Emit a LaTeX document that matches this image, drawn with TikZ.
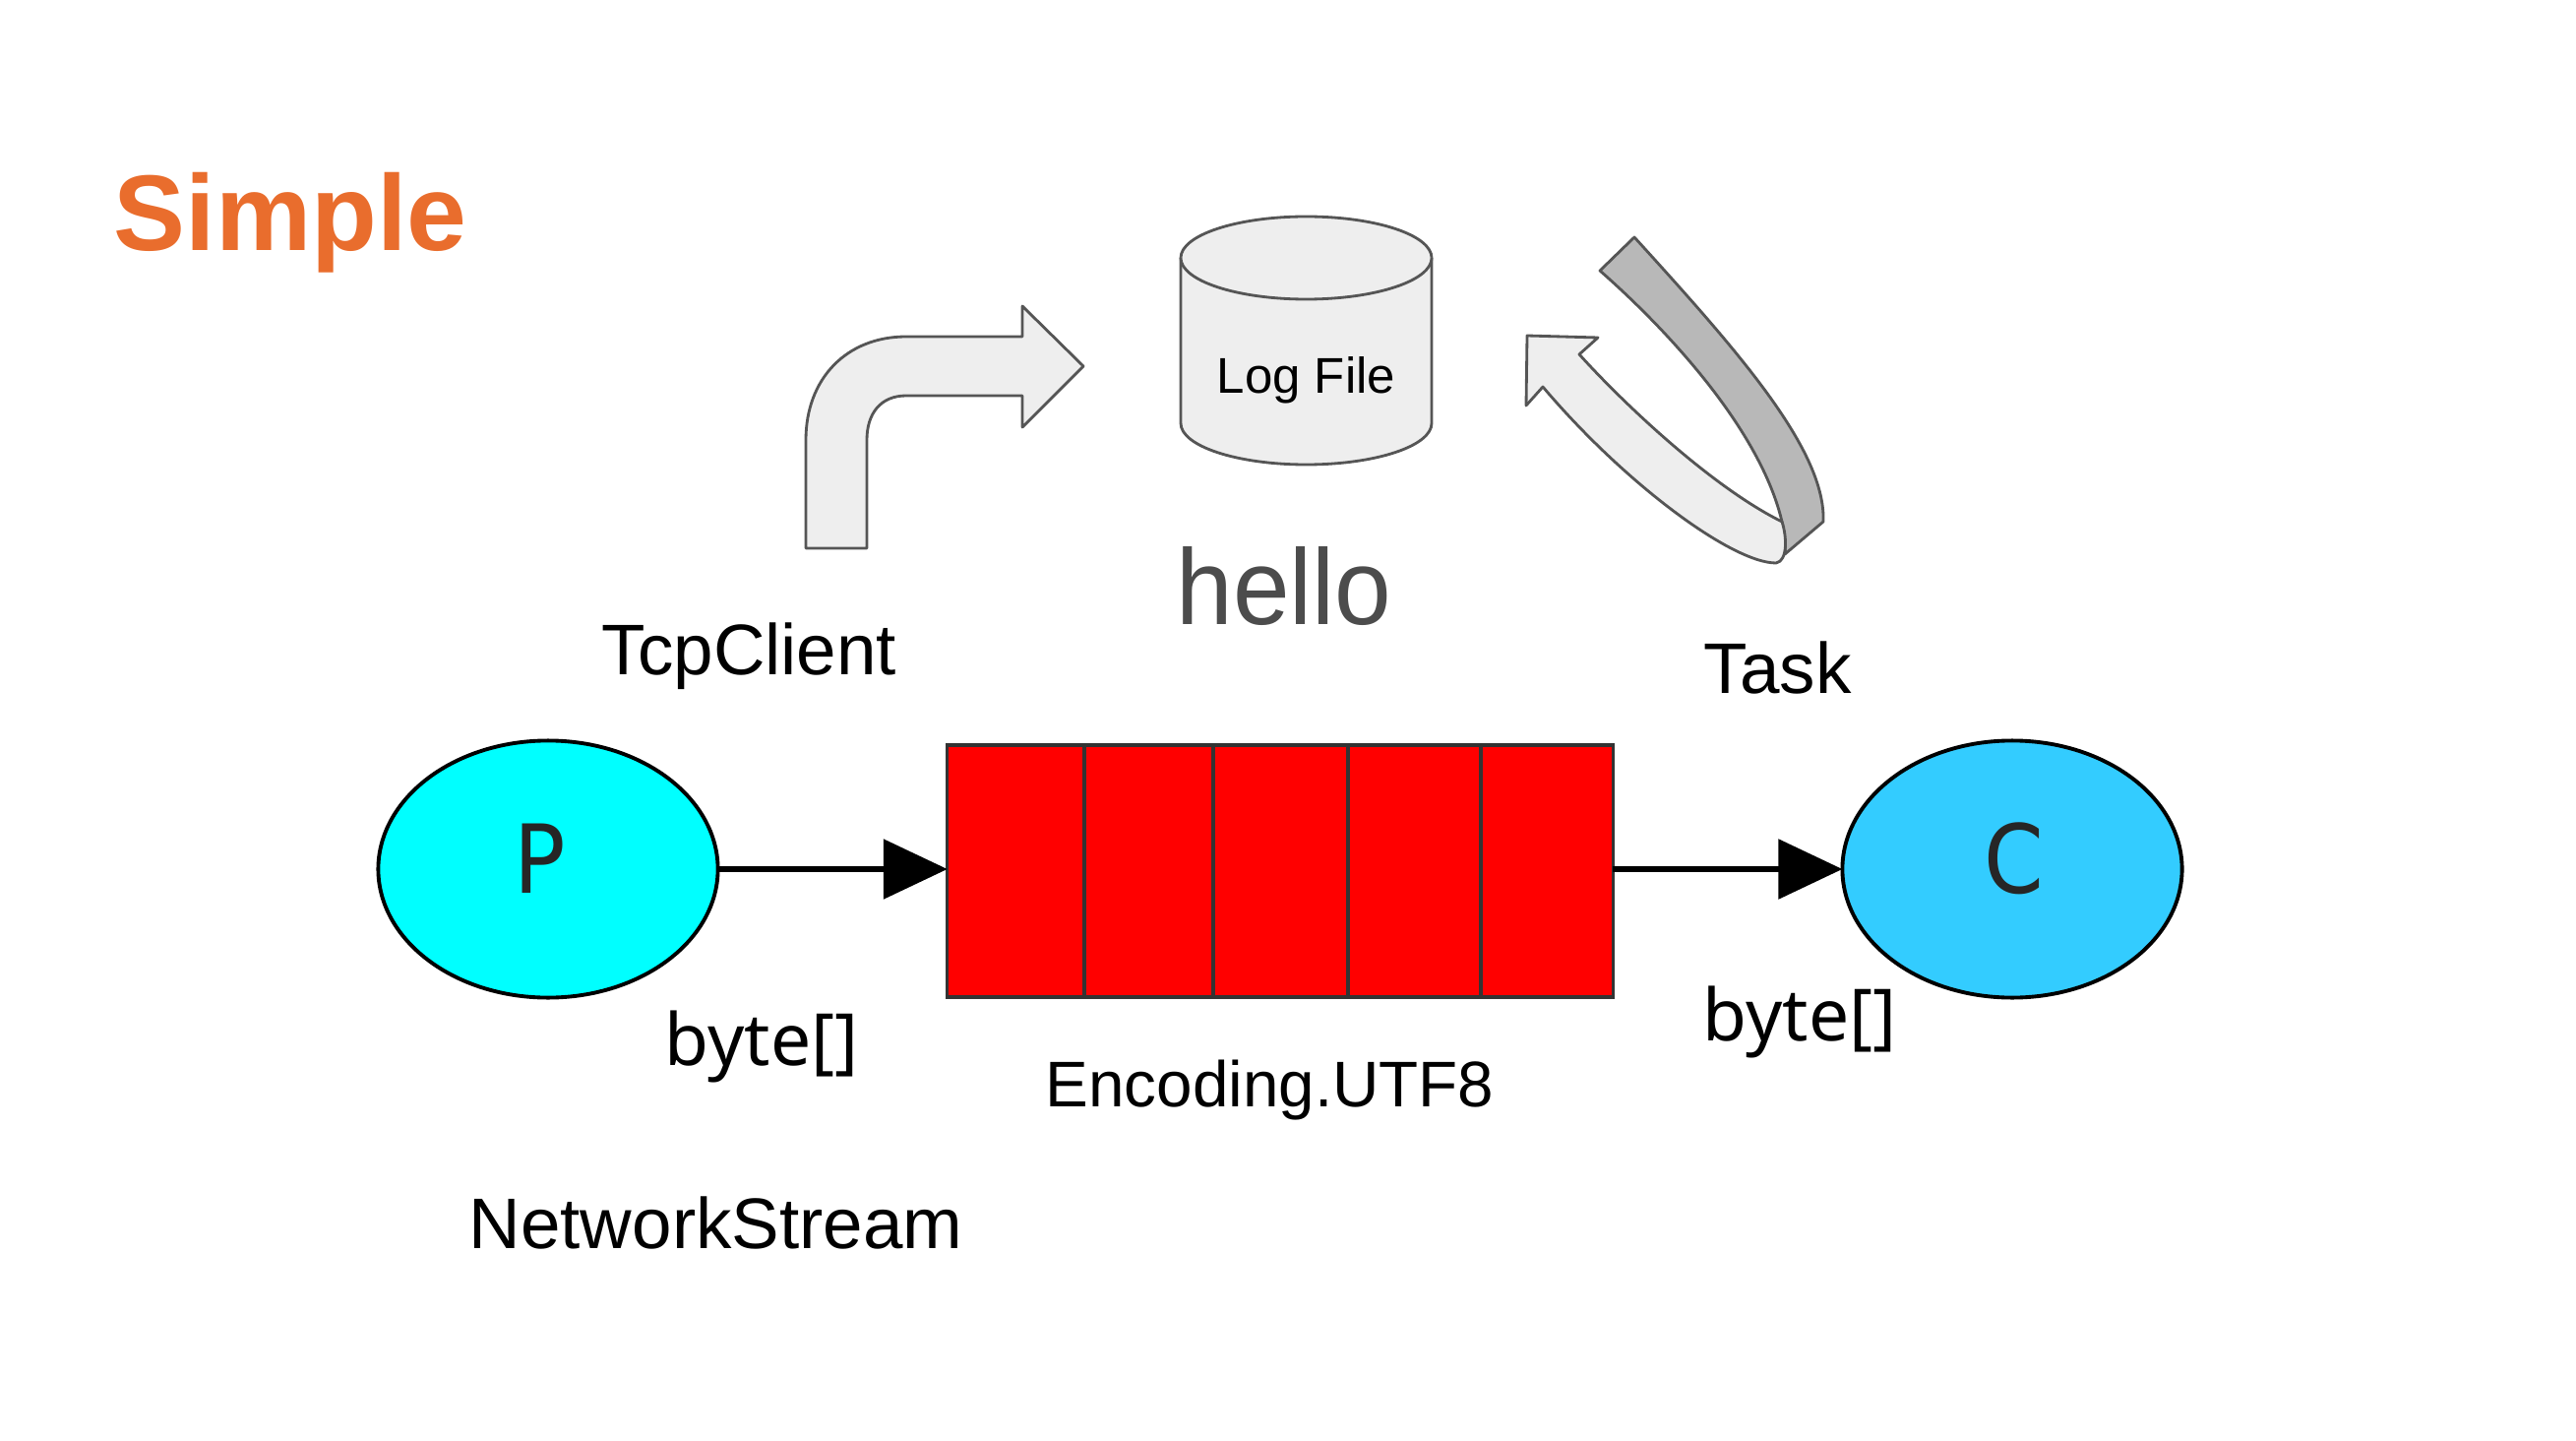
\documentclass[tikz,border=0pt]{standalone}
\usepackage{fontspec}
\setmainfont{Liberation Sans}
\newfontfamily\notofont{Noto Sans}
\newfontfamily\dejafont{DejaVu Sans}
\usetikzlibrary{arrows.meta, shapes.geometric}
\definecolor{titleorange}{HTML}{E96D2D}
\definecolor{shapeline}{HTML}{555555}
\definecolor{shapefill}{HTML}{EEEEEE}
\definecolor{foldfill}{HTML}{B8B8B8}
\definecolor{producercyan}{HTML}{00FFFF}
\definecolor{consumerblue}{HTML}{33CCFF}
\tikzset{
    bubble/.style={ellipse, draw=black, line width=1.1pt, inner sep=0pt, outer sep=0pt, minimum width=3.45cm, minimum height=2.61cm},
    flow/.style={draw=black, line width=1.6pt, -{Triangle[length=0.65cm, width=0.6cm]}},
    sketch/.style={draw=shapeline, fill=shapefill, line width=0.8pt, line join=round},
    caption/.style={anchor=base west, inner sep=0pt, font=\fontsize{20.7}{24}\selectfont},
    letter/.style={anchor=base west, inner sep=0pt, text=black!85, xscale=0.9, font=\dejafont\fontsize{27.5}{32}\selectfont}
}

\begin{document}
\begin{tikzpicture}[x=0.01cm, y=-0.01cm]
    \useasboundingbox (0, 0) rectangle (2618, 1464);

    \node[anchor=base west, inner sep=0pt, text=titleorange, font=\fontsize{31.1}{36}\bfseries\selectfont] (title) at (115, 255) { Simple };

    % log file
    \draw[sketch] (1200, 262) -- (1200, 430) arc[start angle=180, end angle=0, x radius=127.5, y radius=42] -- (1455, 262) arc[start angle=0, end angle=-180, x radius=127.5, y radius=42] -- cycle;
    \draw[sketch] (1200, 262) arc[start angle=180, end angle=0, x radius=127.5, y radius=42];
    \node[anchor=base west, inner sep=0pt, font=\fontsize{14.5}{18}\selectfont] (logfile) at (1236, 400) { Log File };

    % bent arrow
    \draw[sketch] (819, 557) -- (819, 447) .. controls (819, 385) and (860, 342) .. (921, 342) -- (1039, 342) -- (1039, 311) -- (1101, 372) -- (1039, 434) -- (1039, 402) -- (921, 402) .. controls (895, 402) and (881, 420) .. (881, 447) -- (881, 557) -- cycle;

    % looping arrow
    \draw[sketch, fill=foldfill] (1661, 241) .. controls (1760, 350) and (1850, 450) .. (1853, 523) -- (1853, 530) -- (1814, 563) .. controls (1815, 550) and (1813, 540) .. (1811, 530) .. controls (1790, 440) and (1700, 340) .. (1626, 275) -- cycle;
    \draw[sketch] (1552, 341) -- (1624, 343) -- (1605, 360) .. controls (1650, 410) and (1740, 495) .. (1811, 530) .. controls (1816, 545) and (1817, 570) .. (1805, 572) .. controls (1760, 572) and (1650, 490) .. (1568, 393) -- (1551, 412) -- cycle;

    % main line
    \node[bubble, fill=producercyan] (producer) at (557, 883) {};
    \node[bubble, fill=consumerblue] (consumer) at (2045, 883) {};
    \node[rectangle, draw=black!80, fill=red, line width=0.9pt, inner sep=0pt, outer sep=0pt, minimum width=6.76cm, minimum height=2.56cm] (queue) at (1301, 885) {};
    \foreach \x in {1102, 1233, 1370, 1505}
        \draw[black!80, line width=0.9pt] (\x, 0 |- queue.north) -- (\x, 0 |- queue.south);
    \draw[flow] (producer) -- (queue.west |- producer);
    \draw[flow] (queue.east |- consumer) -- (consumer);

    \node[letter] (producerletter) at (522, 907) { P };
    \node[letter] (consumerletter) at (2016, 907) { C };

    \node[anchor=base west, inner sep=0pt, text=black!70, xscale=0.95, font=\fontsize{31}{36}\selectfont] (hello) at (1195, 634) { hello };

    % labels
    \node[caption] (tcpclient) at (611, 685) { TcpClient };
    \node[caption] (task) at (1731, 704) { Task };
    \node[caption, font=\notofont\fontsize{20.8}{24}\selectfont] (bytesin) at (675, 1082) { byte[] };
    \node[caption, font=\notofont\fontsize{20.8}{24}\selectfont] (bytesout) at (1730, 1057) { byte[] };
    \node[caption, font=\fontsize{18.65}{22}\selectfont] (encoding) at (1062, 1124) { Encoding.UTF8 };
    \node[caption] (networkstream) at (476, 1268) { NetworkStream };
\end{tikzpicture}
\end{document}
